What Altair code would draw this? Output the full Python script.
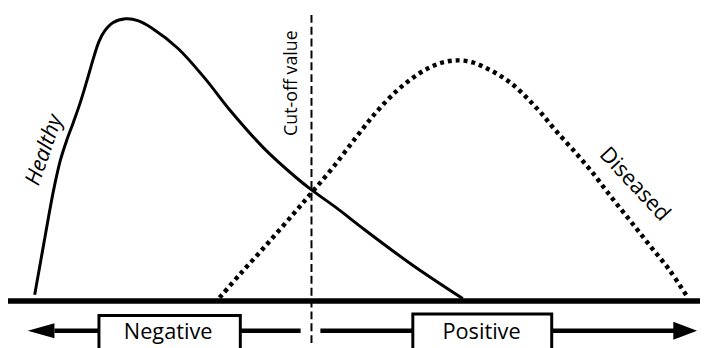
import altair as alt
import pandas as pd

# ---- data (pixel-like units) ----
healthy_x = [35, 40, 45, 50, 55, 61, 67, 74, 81, 88, 95, 100, 106, 114, 127, 140, 153, 180, 207, 233, 267, 300, 315, 340, 367, 417, 468]
healthy_y = [296, 268, 240, 212, 186, 160, 141, 122, 102, 79, 55, 40, 29, 21, 17, 19, 26, 47, 77, 110, 148, 178, 190, 208, 229, 266, 300]

diseased_x = [222, 243, 270, 297, 315, 337, 360, 380, 400, 417, 433, 448, 463, 478, 492, 505, 518, 533, 547, 562, 580, 598, 618, 638, 657, 677, 695]
diseased_y = [299, 275, 245, 214, 193, 167, 137, 112, 91, 77, 67, 61, 59, 61, 67, 74, 83, 97, 112, 130, 150, 171, 197, 222, 246, 271, 298]

baseline_x = [8, 708]
baseline_y = 302.5

cutoff_x = 315
cutoff_y = [13, 348]

shaft_start = [55, 324]
shaft_end = [304, 682]
shaft_y = 332.5

box_labels = ["Negative", "Positive"]
box_left = [100, 417.5]
box_right = [243, 558]
box_top = [317, 315.5]
box_bottom = [360, 360]
label_x = [170, 487]
label_y = 341

curve_labels = ["Healthy", "Diseased", "Cut-off value"]
curve_label_x = [51, 637, 300]
curve_label_y = [152, 189, 82]
curve_label_angle = [289, 47, 270]

# ---- scales ----
W, H = 700, 340
xs = alt.Scale(domain=[8, 708], nice=False, zero=False)
ys = alt.Scale(domain=[8, 348], reverse=True, nice=False, zero=False)

def X(f):
    return alt.X(f, type="quantitative", scale=xs, axis=None)

def Y(f):
    return alt.Y(f, type="quantitative", scale=ys, axis=None)

healthy = alt.Chart(pd.DataFrame({"x": healthy_x, "y": healthy_y})).mark_line(
    color="black", strokeWidth=3, interpolate="catmull-rom"
).encode(x=X("x"), y=Y("y"), order="x:Q")

diseased = alt.Chart(pd.DataFrame({"x": diseased_x, "y": diseased_y})).mark_line(
    color="black", strokeWidth=4.5, strokeDash=[4, 4], strokeCap="butt", interpolate="catmull-rom"
).encode(x=X("x"), y=Y("y"), order="x:Q")

baseline = alt.Chart(pd.DataFrame({"x": [baseline_x[0]], "x2": [baseline_x[1]], "y": [baseline_y]})).mark_rule(
    color="black", strokeWidth=5.5
).encode(x=X("x"), x2="x2", y=Y("y"))

cutoff = alt.Chart(pd.DataFrame({"x": [cutoff_x], "y": [cutoff_y[0]], "y2": [cutoff_y[1]]})).mark_rule(
    color="black", strokeWidth=2, strokeDash=[8, 4]
).encode(x=X("x"), y=Y("y"), y2="y2")

shafts = alt.Chart(pd.DataFrame({"x": shaft_start, "x2": shaft_end, "y": [shaft_y] * 2})).mark_rule(
    color="black", strokeWidth=4.5
).encode(x=X("x"), x2="x2", y=Y("y"))

left_head = alt.Chart(pd.DataFrame({"x": [41.5], "y": [shaft_y]})).mark_point(
    shape="M-1,0L1,-0.556L1,0.556Z", size=729, filled=True, color="black", opacity=1, strokeWidth=0
).encode(x=X("x"), y=Y("y"))

right_head = alt.Chart(pd.DataFrame({"x": [693], "y": [shaft_y]})).mark_point(
    shape="M1,0L-1,-0.75L-1,0.75Z", size=576, filled=True, color="black", opacity=1, strokeWidth=0
).encode(x=X("x"), y=Y("y"))

boxes_df = pd.DataFrame({"label": box_labels, "x": box_left, "x2": box_right,
                         "y": box_top, "y2": box_bottom, "tx": label_x, "ty": [label_y] * 2})
boxes = alt.Chart(boxes_df).mark_rect(
    fill="white", stroke="black", strokeWidth=3
).encode(x=X("x"), x2="x2", y=Y("y"), y2="y2")

box_text = alt.Chart(boxes_df).mark_text(
    font="Open Sans", fontSize=22, align="center", baseline="alphabetic", color="black"
).encode(x=X("tx"), y=Y("ty"), text="label:N")

lab_df = pd.DataFrame({"label": curve_labels, "x": curve_label_x, "y": curve_label_y, "angle": curve_label_angle})
healthy_text = alt.Chart(lab_df.iloc[[0]]).mark_text(
    font="Open Sans", fontSize=22, fontStyle="italic", align="center", baseline="alphabetic", color="black"
).encode(x=X("x"), y=Y("y"), text="label:N", angle=alt.Angle("angle:Q", scale=None))

diseased_text = alt.Chart(lab_df.iloc[[1]]).mark_text(
    font="Open Sans", fontSize=22, align="center", baseline="alphabetic", color="black"
).encode(x=X("x"), y=Y("y"), text="label:N", angle=alt.Angle("angle:Q", scale=None))

cut_text = alt.Chart(lab_df.iloc[[2]]).mark_text(
    font="Open Sans", fontSize=18, align="center", baseline="alphabetic", color="black"
).encode(x=X("x"), y=Y("y"), text="label:N", angle=alt.Angle("angle:Q", scale=None))

chart = alt.layer(
    cutoff, healthy, diseased, baseline, shafts, left_head, right_head,
    boxes, box_text, healthy_text, diseased_text, cut_text
).properties(
    width=W, height=H, padding=0, autosize=alt.AutoSizeParams(type="none"), background="white"
).configure_view(stroke=None)

chart.save("out.html", embed_options={"renderer": "svg", "actions": False})
